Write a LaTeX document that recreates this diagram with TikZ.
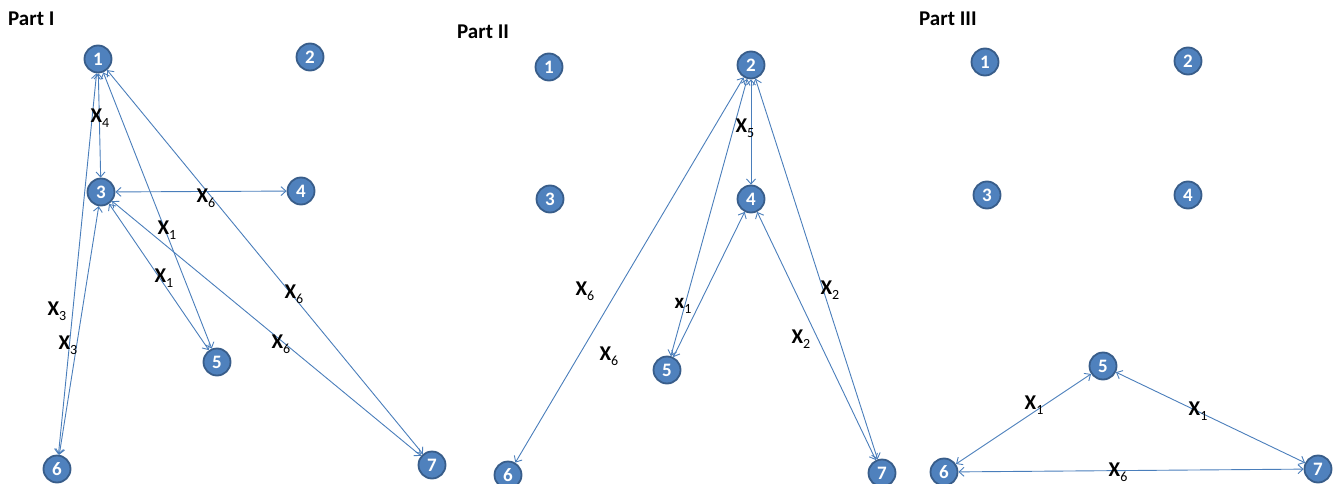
\documentclass[tikz,border=0pt]{standalone}
\usepackage{fontspec}
\setmainfont{Carlito}
\usetikzlibrary{arrows.meta}
\definecolor{nodefill}{HTML}{4F81BD}
\definecolor{nodeline}{HTML}{385D8A}
\definecolor{edgeblue}{HTML}{4A7EBB}
% bold variable letter with a lowered, regular-weight index
\newcommand{\lab}[2]{\textbf{#1}\raisebox{-0.5ex}{\fontsize{14}{14}\selectfont #2}}

\begin{document}
\begin{tikzpicture}[x=1pt,y=-1pt,
  vert/.style={circle, fill=nodefill, draw=nodeline, line width=1.8pt,
    minimum size=27pt, inner sep=0pt, text=white,
    font=\fontsize{19}{19}\selectfont\bfseries},
  link/.style={draw=edgeblue, line width=0.9pt,
    {Straight Barb[length=5pt,width=9pt]}-{Straight Barb[length=5pt,width=9pt]}},
  elab/.style={font=\fontsize{21}{21}\selectfont, inner sep=0pt},
  parttitle/.style={font=\fontsize{21}{21}\selectfont\bfseries, anchor=west, inner sep=0pt}]

\useasboundingbox (0,0) rectangle (1335,484);

% ---------------- Part I ----------------
\node[parttitle] (tA) at (8,19) {Part I};
\node[vert] (a1) at (98,59)  {1};
\node[vert] (a2) at (310,57) {2};
\node[vert] (a3) at (101,192) {3};
\node[vert] (a4) at (301,191) {4};
\node[vert] (a5) at (217,362) {5};
\node[vert] (a6) at (57,469) {6};
\node[vert] (a7) at (432,465) {7};

\draw[link] (a1) -- (a3);
\draw[link] (a1) -- (a6);
\draw[link] (a3) -- (a6);
\draw[link] (a1) -- (a5);
\draw[link] (a3) -- (a5);
\draw[link] (a3) -- (a4);
\draw[link] (a1) -- (a7);
\draw[link] (a3) -- (a7);

\node[elab] (la1) at (100,118) {\lab{X}{4}};
\node[elab] (la2) at (206,198) {\lab{X}{6}};
\node[elab] (la3) at (167,230) {\lab{X}{1}};
\node[elab] (la4) at (164,278) {\lab{X}{1}};
\node[elab] (la5) at (294,294) {\lab{X}{6}};
\node[elab] (la6) at (281,344) {\lab{X}{6}};
\node[elab] (la7) at (57,311) {\lab{X}{3}};
\node[elab] (la8) at (68,345) {\lab{X}{3}};

% ---------------- Part II ----------------
\node[parttitle] (tB) at (457,32) {Part II};
\node[vert] (b1) at (549,67)  {1};
\node[vert] (b2) at (751,65)  {2};
\node[vert] (b3) at (550,199) {3};
\node[vert] (b4) at (751,199) {4};
\node[vert] (b5) at (667,370) {5};
\node[vert] (b6) at (508,475) {6};
\node[vert] (b7) at (882,473) {7};

\draw[link] (b2) -- (b6);
\draw[link] (b2) -- (b5);
\draw[link] (b4) -- (b5);
\draw[link] (b2) -- (b4);
\draw[link] (b2) -- (b7);
\draw[link] (b4) -- (b7);

\node[elab] (lb1) at (745,128) {\lab{X}{5}};
\node[elab] (lb2) at (585,291) {\lab{X}{6}};
\node[elab] (lb3) at (609,356) {\lab{X}{6}};
\node[elab] (lb4) at (683,306) {\lab{x}{1}};
\node[elab] (lb5) at (830,290) {\lab{X}{2}};
\node[elab] (lb6) at (801,339) {\lab{X}{2}};

% ---------------- Part III ----------------
\node[parttitle] (tC) at (919,19) {Part III};
\node[vert] (c1) at (985,62)   {1};
\node[vert] (c2) at (1188,61)  {2};
\node[vert] (c3) at (987,195)  {3};
\node[vert] (c4) at (1188,195) {4};
\node[vert] (c5) at (1103,366) {5};
\node[vert] (c6) at (944,472)  {6};
\node[vert] (c7) at (1318,469) {7};

\draw[link] (c5) -- (c6);
\draw[link] (c5) -- (c7);
\draw[link] (c6) -- (c7);

\node[elab] (lc1) at (1034,405) {\lab{X}{1}};
\node[elab] (lc2) at (1198,411) {\lab{X}{1}};
\node[elab] (lc3) at (1118,472) {\lab{X}{6}};
\end{tikzpicture}
\end{document}
